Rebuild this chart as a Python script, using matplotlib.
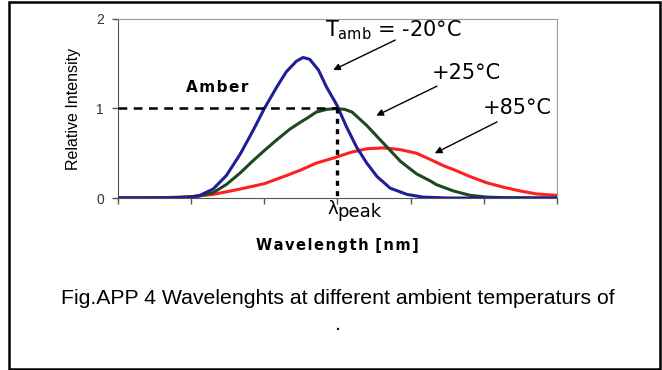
import numpy as np
import matplotlib.pyplot as plt
from matplotlib.patches import Rectangle

arial = ['Liberation Sans', 'DejaVu Sans']

x_m20 = [0, 0.6, 1.0, 1.12, 1.30, 1.48, 1.67, 1.85, 2.0, 2.17, 2.30, 2.44, 2.53,
         2.62, 2.74, 2.85, 2.99, 3.12, 3.26, 3.40, 3.54, 3.72, 3.95, 4.17, 4.5, 6.0]
i_m20 = [0, 0, 0.01, 0.03, 0.10, 0.25, 0.49, 0.76, 1.0, 1.24, 1.41, 1.53, 1.57,
         1.55, 1.43, 1.24, 1.04, 0.80, 0.57, 0.39, 0.24, 0.11, 0.04, 0.01, 0, 0]

x_25 = [0, 0.8, 1.1, 1.30, 1.48, 1.67, 1.85, 2.0, 2.17, 2.35, 2.5, 2.6, 2.71, 2.85,
        2.98, 3.1, 3.2, 3.4, 3.63, 3.86, 4.08, 4.27, 4.35, 4.58, 4.81, 5.04, 5.3, 6.0]
i_25 = [0, 0.002, 0.02, 0.06, 0.15, 0.28, 0.42, 0.53, 0.65, 0.77, 0.85, 0.90, 0.96,
        0.99, 1.0, 0.99, 0.96, 0.81, 0.61, 0.41, 0.27, 0.19, 0.15, 0.08, 0.03, 0.01,
        0.003, 0]

x_85 = [0, 0.6, 1.0, 1.30, 1.67, 2.0, 2.30, 2.49, 2.71, 2.96, 3.18, 3.40, 3.63,
        3.86, 4.08, 4.27, 4.45, 4.58, 4.81, 5.04, 5.27, 5.49, 5.72, 6.0]
i_85 = [0, 0.003, 0.015, 0.04, 0.10, 0.16, 0.25, 0.31, 0.39, 0.45, 0.51, 0.55, 0.56,
        0.54, 0.50, 0.43, 0.36, 0.32, 0.24, 0.17, 0.12, 0.08, 0.045, 0.03]

x_ticks = [0, 1, 2, 3, 4, 5, 6]
y_ticks = [0, 1, 2]
x_peak = 3
y_peak = 1

fig = plt.figure(figsize=(6.62, 3.70), dpi=100)
ax = fig.add_axes([118/662, 1 - 198/370, (557 - 118)/662, (198 - 19)/370])

ax.plot(x_85, i_85, color='#ff2020', lw=2.2, zorder=3)
ax.plot(x_25, i_25, color='#1c4a1c', lw=2.2, zorder=4)
ax.plot(x_m20, i_m20, color='#1f1f95', lw=2.2, zorder=5)

# Hilfslinien zum Peak
ax.plot([0, x_peak], [y_peak, y_peak], color='black', lw=1.8, dashes=(3.5, 2.6), zorder=6)
ax.plot([x_peak, x_peak], [y_peak, 0], color='black', lw=2.4, dashes=(1.5, 1.6), zorder=6)

ax.set_xlim(0, 6)
ax.set_ylim(0, 2)
ax.set_xticks(x_ticks)
ax.set_xticklabels([])
ax.set_yticks(y_ticks)
ax.set_yticklabels([str(v) for v in y_ticks], family=arial, fontsize=10, color='#333333')
ax.tick_params(direction='out', length=4, width=1, color='#555555')
ax.tick_params(axis='y', pad=6)
for s in ['top', 'right']:
    ax.spines[s].set_color('#999999')
for s in ['left', 'bottom']:
    ax.spines[s].set_color('#555555')

# lambda_peak unter dem Peak-Tick
ax.annotate('\u03bb', xy=(x_peak, 0), xycoords=('data', 'axes fraction'),
            xytext=(-10, -16), textcoords='offset pixels', fontsize=13,
            family='DejaVu Sans', ha='left', va='baseline')
ax.annotate('peak', xy=(x_peak, 0), xycoords=('data', 'axes fraction'),
            xytext=(0, -19), textcoords='offset pixels', fontsize=13,
            family='DejaVu Sans', ha='left', va='baseline')

ax.set_ylabel('Relative Intensity', family=arial, fontsize=11.5, labelpad=11)
ax.set_xlabel('W\u200aa\u200av\u200ae\u200al\u200ae\u200an\u200ag\u200at\u200ah\u200a [\u200an\u200am\u200a]',
              family='DejaVu Sans', fontweight='bold', fontsize=10.5, labelpad=21)

ax.text(1.35, 1.23, 'A\u200am\u200ab\u200ae\u200ar', family='DejaVu Sans', fontweight='bold',
        fontsize=11, ha='center', va='center')

arrow = dict(arrowstyle='-|>', color='black', lw=1, mutation_scale=10, shrinkA=0, shrinkB=0)
ax.annotate('', xy=(2.94, 1.43), xytext=(3.79, 1.765), arrowprops=arrow)
ax.annotate('', xy=(3.53, 0.92), xytext=(4.36, 1.25), arrowprops=arrow)
ax.annotate('', xy=(4.33, 0.50), xytext=(5.18, 0.85), arrowprops=arrow)

ax.text(2.83, 1.88, r'T$_{\mathrm{amb}}$ = -20°C', family='DejaVu Sans', fontsize=15, va='center')
ax.text(4.29, 1.40, '+25°C', family='DejaVu Sans', fontsize=15, va='center')
ax.text(4.99, 1.00, '+85°C', family='DejaVu Sans', fontsize=15, va='center')

fig.text(338/662, 1 - 298/370, 'Fig.APP 4 Wavelenghts at different ambient temperaturs of',
         family=arial, fontsize=15.3, ha='center', va='center')
fig.text(338/662, 1 - 325/370, '.', family=arial, fontsize=15.3, ha='center', va='center')

# Rahmen um die ganze Abbildung
fig.patches.append(Rectangle((9/662, 1.5/370), (660 - 9)/662, (368 - 1.5)/370,
                             transform=fig.transFigure, fill=False, ec='black', lw=1.8))

fig.savefig('out.png', dpi=100)
